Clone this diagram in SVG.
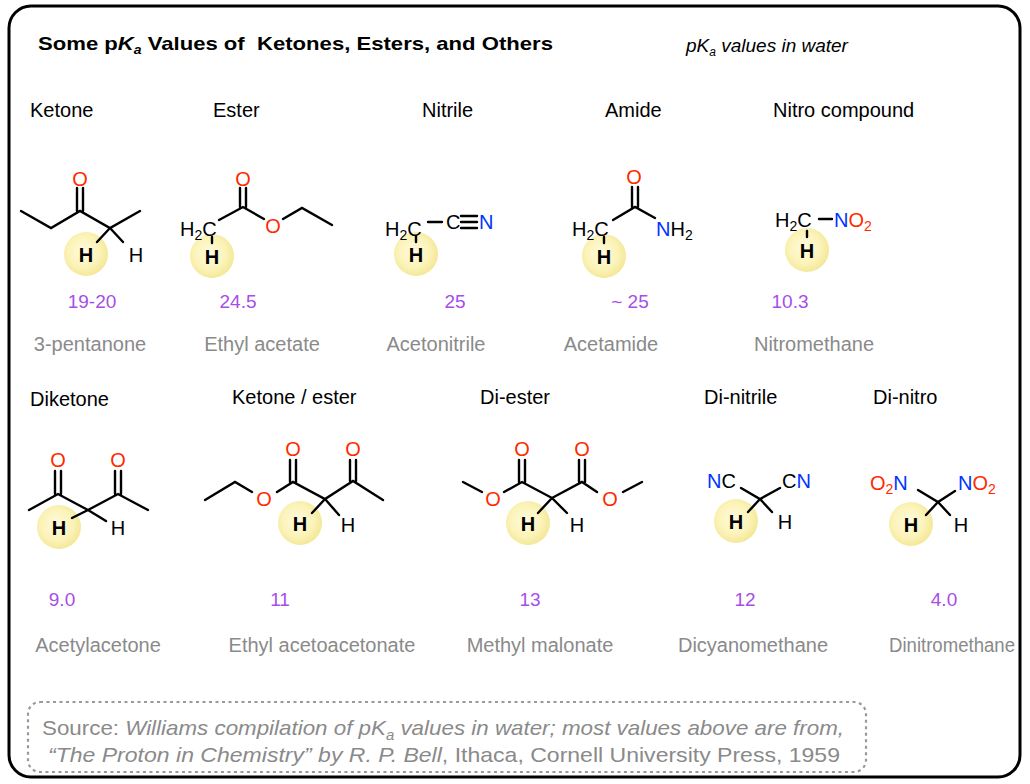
<svg xmlns="http://www.w3.org/2000/svg" width="1030" height="784" viewBox="0 0 1030 784">
<defs>
<radialGradient id="g" cx="0.45" cy="0.45" r="0.6">
<stop offset="0" stop-color="#fffbe0"/><stop offset="0.6" stop-color="#fbf3b8"/><stop offset="1" stop-color="#f3e592"/>
</radialGradient>
<style>
text{font-family:"Liberation Sans",Arial,sans-serif}
.b{fill:none;stroke:#000;stroke-width:2.4;stroke-linecap:round}
.t{font-size:20px;fill:#000}
.a{font-size:20px}
.r{fill:#ff2a00}.n{fill:#0033ff}
.hb{font-size:20px;font-weight:bold;text-anchor:middle}
.h{font-size:20px;text-anchor:middle}
.v{font-size:19px;fill:#a64ee8;text-anchor:middle}
.nm{font-size:20px;fill:#8a8a8a;text-anchor:middle}
.c{fill:url(#g)}
</style>
</defs>
<rect x="0" y="0" width="1030" height="784" fill="#fff"/>
<rect x="9" y="6" width="1011" height="771" rx="22" fill="none" stroke="#000" stroke-width="3"/>
<text x="38" y="50" font-size="19" font-weight="bold" xml:space="preserve" textLength="515" lengthAdjust="spacingAndGlyphs">Some p<tspan font-style="italic">K</tspan><tspan font-style="italic" font-size="12" dy="4">a</tspan><tspan dy="-4"> Values of  Ketones, Esters, and Others</tspan></text>
<text x="686" y="52" font-size="19" font-style="italic">pK<tspan font-size="12" dy="4">a</tspan><tspan dy="-4"> values in water</tspan></text>

<g id="headers">
<text class="t" x="30" y="117">Ketone</text>
<text class="t" x="213" y="117">Ester</text>
<text class="t" x="422" y="117">Nitrile</text>
<text class="t" x="605" y="117">Amide</text>
<text class="t" x="773" y="117">Nitro compound</text>
<text class="t" x="30" y="406">Diketone</text>
<text class="t" x="232" y="404">Ketone / ester</text>
<text class="t" x="480" y="404">Di-ester</text>
<text class="t" x="704" y="404">Di-nitrile</text>
<text class="t" x="873" y="404">Di-nitro</text>
</g>

<g id="ketone">
<circle class="c" cx="86" cy="254" r="22"/>
<path class="b" d="M21 211 L51 228 L80 211 L110 228 L140 211 M77 211 V188 M83 211 V188 M110 228 L97 242 M110 228 L123 242"/>
<text class="a r" x="80" y="186" text-anchor="middle">O</text>
<text class="hb" x="86" y="262">H</text>
<text class="h" x="136" y="262">H</text>
<text class="v" x="92" y="308">19-20</text>
<text class="nm" x="90" y="351">3-pentanone</text>
</g>

<g id="ester">
<circle class="c" cx="212" cy="256" r="22"/>
<path class="b" d="M219 220 L243 207 L264 219 M240 207 V188 M246 207 V188 M283 219 L302 208 L332 225 M212 237 V243"/>
<text class="a" x="180" y="236">H<tspan font-size="14" dy="4">2</tspan><tspan dy="-4">C</tspan></text>
<text class="a r" x="243" y="186" text-anchor="middle">O</text>
<text class="a r" x="273" y="233" text-anchor="middle">O</text>
<text class="hb" x="212" y="264">H</text>
<text class="v" x="238" y="308">24.5</text>
<text class="nm" x="262" y="351">Ethyl acetate</text>
</g>

<g id="nitrile">
<circle class="c" cx="416" cy="254" r="22"/>
<path class="b" d="M428 222 H442 M461 216 H477 M461 222 H477 M461 228 H477 M416 236 V242"/>
<text class="a" x="385" y="236">H<tspan font-size="14" dy="4">2</tspan><tspan dy="-4">C</tspan></text>
<text class="a" x="446" y="229">C</text>
<text class="a n" x="479" y="229">N</text>
<text class="hb" x="416" y="262">H</text>
<text class="v" x="455" y="308">25</text>
<text class="nm" x="436" y="351">Acetonitrile</text>
</g>

<g id="amide">
<circle class="c" cx="604" cy="256" r="22"/>
<path class="b" d="M613 220 L635 207 L655 218 M632 207 V187 M638 207 V187 M604 237 V243"/>
<text class="a" x="572" y="236">H<tspan font-size="14" dy="4">2</tspan><tspan dy="-4">C</tspan></text>
<text class="a r" x="634" y="184" text-anchor="middle">O</text>
<text class="a" x="656" y="236"><tspan class="n">N</tspan>H<tspan font-size="14" dy="4">2</tspan></text>
<text class="hb" x="604" y="264">H</text>
<text class="v" x="630" y="308">~ 25</text>
<text class="nm" x="611" y="351">Acetamide</text>
</g>

<g id="nitro">
<circle class="c" cx="807" cy="250" r="22"/>
<path class="b" d="M819 219 H832 M807 231 V237"/>
<text class="a" x="775" y="227">H<tspan font-size="14" dy="4">2</tspan><tspan dy="-4">C</tspan></text>
<text class="a" x="834" y="227"><tspan class="n">N</tspan><tspan class="r">O</tspan><tspan class="r" font-size="14" dy="4">2</tspan></text>
<text class="hb" x="807" y="258">H</text>
<text class="v" x="790" y="308">10.3</text>
<text class="nm" x="814" y="351">Nitromethane</text>
</g>

<g id="diketone">
<circle class="c" cx="59" cy="527" r="22"/>
<path class="b" d="M29 510 L58 494 L88 510 L118 494 L148 510 M55 494 V471 M61 494 V471 M115 494 V471 M121 494 V471 M88 510 L72 518 M88 510 L106 521"/>
<text class="a r" x="58" y="467" text-anchor="middle">O</text>
<text class="a r" x="118" y="467" text-anchor="middle">O</text>
<text class="hb" x="59" y="535">H</text>
<text class="h" x="118" y="535">H</text>
<text class="v" x="62" y="606">9.0</text>
<text class="nm" x="98" y="652">Acetylacetone</text>
</g>

<g id="ketoester">
<circle class="c" cx="300" cy="523" r="22"/>
<path class="b" d="M205 500 L235 482 L252 492 M277 492 L293 482 L325 499 L353 481 L383 500 M290 482 V460 M296 482 V460 M350 481 V460 M356 481 V460 M325 499 L312 513 M325 499 L339 515"/>
<text class="a r" x="264" y="506" text-anchor="middle">O</text>
<text class="a r" x="293" y="456" text-anchor="middle">O</text>
<text class="a r" x="353" y="456" text-anchor="middle">O</text>
<text class="hb" x="300" y="531">H</text>
<text class="h" x="348" y="532">H</text>
<text class="v" x="280" y="606">11</text>
<text class="nm" x="322" y="652">Ethyl acetoacetonate</text>
</g>

<g id="diester">
<circle class="c" cx="528" cy="523" r="22"/>
<path class="b" d="M463 482 L482 492 M504 492 L522 482 L552 498 L582 482 L597 492 M623 492 L642 482 M519 482 V460 M525 482 V460 M579 482 V460 M585 482 V460 M552 498 L538 513 M552 498 L567 513"/>
<text class="a r" x="493" y="506" text-anchor="middle">O</text>
<text class="a r" x="610" y="506" text-anchor="middle">O</text>
<text class="a r" x="522" y="456" text-anchor="middle">O</text>
<text class="a r" x="582" y="456" text-anchor="middle">O</text>
<text class="hb" x="528" y="531">H</text>
<text class="h" x="577" y="532">H</text>
<text class="v" x="530" y="606">13</text>
<text class="nm" x="540" y="652">Methyl malonate</text>
</g>

<g id="dinitrile">
<circle class="c" cx="736" cy="521" r="22"/>
<path class="b" d="M741 488 L760 499 L780 488 M760 499 L748 512 M760 499 L772 512"/>
<text class="a" x="707" y="488"><tspan class="n">N</tspan>C</text>
<text class="a" x="782" y="488">C<tspan class="n">N</tspan></text>
<text class="hb" x="736" y="529">H</text>
<text class="h" x="785" y="529">H</text>
<text class="v" x="745" y="606">12</text>
<text class="nm" x="753" y="652">Dicyanomethane</text>
</g>

<g id="dinitro">
<circle class="c" cx="911" cy="524" r="22"/>
<path class="b" d="M918 490 L938 502 L955 491 M938 502 L926 515 M938 502 L950 515"/>
<text class="a" x="870" y="490"><tspan class="r">O</tspan><tspan class="r" font-size="14" dy="4">2</tspan><tspan class="n" dy="-4">N</tspan></text>
<text class="a" x="958" y="490"><tspan class="n">N</tspan><tspan class="r">O</tspan><tspan class="r" font-size="14" dy="4">2</tspan></text>
<text class="hb" x="911" y="532">H</text>
<text class="h" x="961" y="532">H</text>
<text class="v" x="944" y="606">4.0</text>
<text class="nm" x="952" y="652" textLength="126" lengthAdjust="spacingAndGlyphs">Dinitromethane</text>
</g>

<g id="connectors"></g>

<g id="source">
<rect x="28" y="702" width="838" height="70" rx="12" fill="none" stroke="#999" stroke-width="2.2" stroke-dasharray="3 3.5"/>
<text x="42" y="735" font-size="21" fill="#8a8a8a" textLength="802" lengthAdjust="spacingAndGlyphs">Source: <tspan font-style="italic">Williams compilation of pK</tspan><tspan font-style="italic" font-size="14" dy="5">a</tspan><tspan font-style="italic" dy="-5"> values in water; most values above are from,</tspan></text>
<text x="48" y="762" font-size="21" fill="#8a8a8a" textLength="792" lengthAdjust="spacingAndGlyphs"><tspan font-style="italic">“The Proton in Chemistry” by R. P. Bell</tspan>, Ithaca, Cornell University Press, 1959</text>
</g>
</svg>
